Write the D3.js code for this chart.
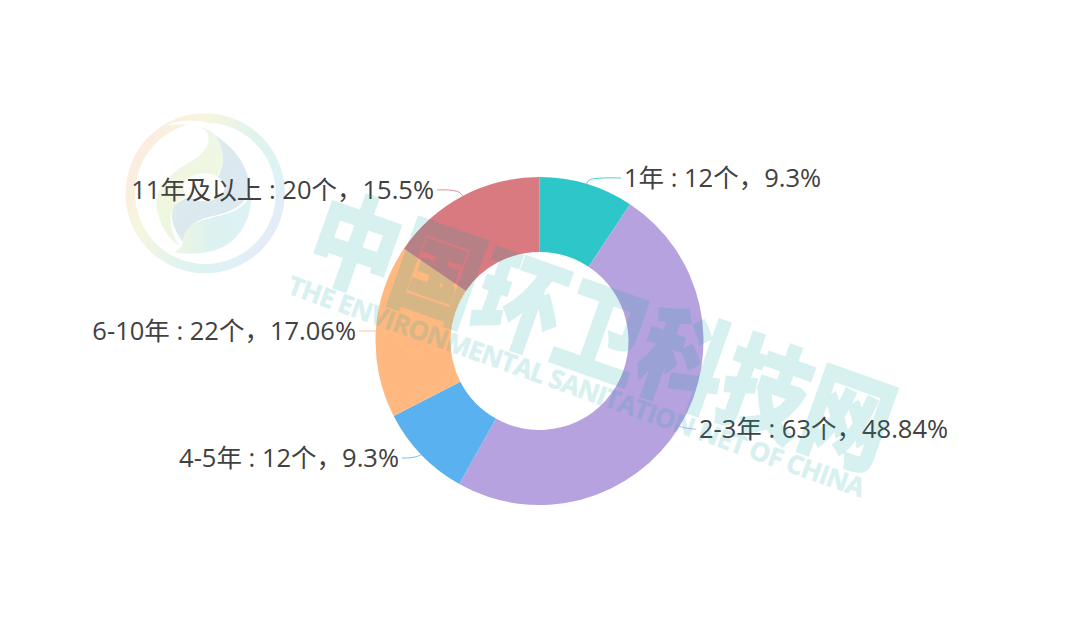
<!DOCTYPE html>
<html><head><meta charset="utf-8">
<script src="https://cdnjs.cloudflare.com/ajax/libs/d3/7.8.5/d3.min.js"></script>
<style>html,body{margin:0;background:#fff}svg{display:block}</style></head>
<body><svg id="c" width="1080" height="639"></svg>
<script>
const categories=["1年","2-3年","4-5年","6-10年","11年及以上"];
const counts=[12,63,12,22,20];
const percents=["9.3%","48.84%","9.3%","17.06%","15.5%"];
const colors=["#2ec7c9","#b6a2de","#5ab1ef","#ffb980","#d87a80"];
// label layout: anchor point for each label, [x, y, text-anchor]
const labelLayout=[[624,176.5,"start"],[699,427.5,"start"],[399,456.5,"end"],[356,329.5,"end"],[434,188.5,"end"]];
const cx=539.5,cy=341,R=164,r0=89;

const svg=d3.select("#c");
const defs=svg.append("defs");
function grad(id,stops,x1,y1,x2,y2){
  const g=defs.append("linearGradient").attr("id",id).attr("x1",x1).attr("y1",y1).attr("x2",x2).attr("y2",y2);
  stops.forEach(([o,c])=>g.append("stop").attr("offset",o).attr("stop-color",c));
}
grad("ringG",[[0,"#fde9e0"],[.3,"#f6f6de"],[.6,"#dff3f0"],[.8,"#ddf2f6"],[1,"#e9e7f4"]],"0","0.2","1","0.8");
grad("leafG",[[0,"#eef6e6"],[.6,"#f1f7de"],[1,"#ebf6e4"]],"0","0","0","1");
grad("blueG",[[0,"#e3eff4"],[.5,"#dbe9ee"],[1,"#dfe8f4"]],"0","0","1","1");
grad("lowG",[[0,"#eef6e0"],[.5,"#dcf2f0"],[1,"#dcf2f6"]],"0","0","1","0");

// logo (decorative, behind the labels)
const logo=svg.append("g").attr("transform","translate(100,100) scale(0.3333)");
logo.append("path").attr("fill","url(#ringG)").attr("fill-rule","evenodd")
 .attr("d","M316,40a239,240 0 1 1 -1,0ZM316,68a211,212 0 1 0 1,0Z");
logo.append("path").attr("fill","#fff").attr("d","M200,75C250,55 300,60 340,75C365,88 385,92 430,115C390,100 350,92 320,86C280,78 240,70 200,75Z");
logo.append("path").attr("fill","url(#leafG)").attr("d","M300,82C335,95 335,135 300,165C255,200 195,220 172,285C160,340 195,410 238,438C215,400 200,350 225,315C250,280 290,290 330,255C370,220 385,150 340,100C328,90 315,84 300,82Z");
logo.append("path").attr("fill","url(#blueG)").attr("d","M345,105C400,140 445,195 450,265C440,320 385,340 330,350C290,360 262,375 248,425C225,395 205,350 222,318C245,290 300,290 335,255C375,215 380,155 345,105Z");
logo.append("path").attr("fill","url(#lowG)").attr("d","M250,415C260,370 300,362 345,350C400,340 440,320 452,280C460,340 425,420 360,445C320,462 265,465 222,457C240,450 250,435 250,415Z");
logo.append("ellipse").attr("cx",312).attr("cy",262).attr("rx",62).attr("ry",42).attr("fill","#fff");

// donut
const pie=d3.pie().sort(null).value(d=>d)(counts);
const arc=d3.arc().innerRadius(r0).outerRadius(R);
const g=svg.append("g").attr("transform",`translate(${cx},${cy})`);
g.selectAll("path").data(pie).join("path").attr("d",arc).attr("fill",(d,i)=>colors[i]);

// leader lines
const polar=(a,rad)=>[cx+rad*Math.sin(a),cy-rad*Math.cos(a)];
const curve=d3.line().curve(d3.curveCatmullRom.alpha(.5));
svg.append("g").selectAll("path").data(pie).join("path")
 .attr("fill","none").attr("stroke",(d,i)=>colors[i]).attr("stroke-width",1).attr("opacity",.85)
 .attr("d",(d,i)=>{
   const m=(d.startAngle+d.endAngle)/2;
   const a=polar(m,R), b=polar(m,R+ (i===3?6:14));
   const [lx,ly,anc]=labelLayout[i];
   const dir=anc==="start"?-1:1;
   const end=[lx+dir*3,ly+1.5];
   const mid=[b[0],end[1]];
   return curve([a,[(a[0]*.4+mid[0]*.6),(a[1]*.35+mid[1]*.65)],[(mid[0]*.6+end[0]*.4),end[1]],end]);
 });

// labels
svg.append("g").selectAll("text").data(categories).join("text")
 .attr("x",(d,i)=>labelLayout[i][0]).attr("y",(d,i)=>labelLayout[i][1])
 .attr("text-anchor",(d,i)=>labelLayout[i][2]).attr("dominant-baseline","central")
 .attr("font-family","'Open Sans','Noto Sans CJK SC',sans-serif").attr("font-size",25.5).attr("fill","#414141")
 .text((d,i)=>`${d} : ${counts[i]}个，${percents[i]}`);

// watermark on top
const wm=svg.append("g").attr("fill","rgb(12,168,168)").attr("stroke","rgb(12,168,168)").attr("opacity",.16);
wm.append("text").attr("transform","translate(302,266) rotate(19.5) scale(1,1.2)")
 .attr("font-family","'Noto Sans CJK SC'").attr("font-weight",900).attr("font-size",87).attr("stroke-width",1.5)
 .text("中国环卫科技网");
wm.append("text").attr("transform","translate(286,293) rotate(19.6)")
 .attr("font-family","'Open Sans',sans-serif").attr("font-weight",700).attr("font-size",26).attr("stroke-width",.6)
 .attr("textLength",610).attr("lengthAdjust","spacing").text("THE ENVIRONMENTAL SANITATION NET OF CHINA");
</script></body></html>
